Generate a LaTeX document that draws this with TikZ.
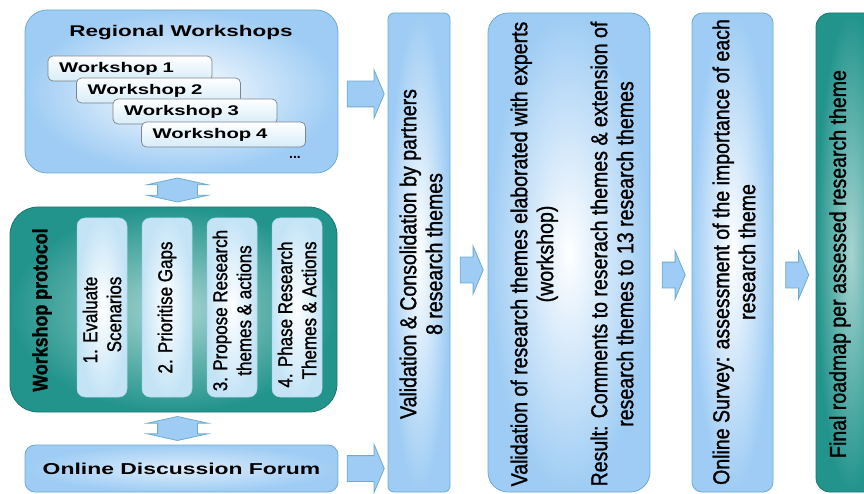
\documentclass[tikz,border=0pt]{standalone}
\usepackage{fontspec}
\usepackage{tikz}
\usetikzlibrary{shapes.arrows,calc}
\setmainfont{Liberation Sans}
\newfontfamily\widefont[FakeStretch=1.45]{Liberation Sans}
\newfontfamily\tallfont[FakeStretch=0.85,FakeBold=1.2]{Liberation Sans}

\definecolor{skyblue}{RGB}{158,204,244}
\definecolor{skyline}{RGB}{108,172,208}
\definecolor{tealfill}{RGB}{34,148,140}
\definecolor{tealline}{RGB}{25,120,114}
\definecolor{paleblue}{RGB}{196,228,246}
\definecolor{wsgray}{RGB}{125,132,140}

\tikzset{
  bluebox/.style={draw=skyline, line width=0.8pt, inner color=white, outer color=skyblue},
  tealbox/.style={draw=tealline, line width=0.8pt, inner color=tealfill!40!white, outer color=tealfill},
  wsbox/.style={draw=wsgray, line width=0.7pt, top color=white, bottom color=paleblue!70!white,
    rounded corners=5pt, minimum height=25pt, inner xsep=11pt, inner ysep=0pt, text width=142pt,
    align=left, font=\widefont\bfseries\fontsize{14}{16}\selectfont},
  stepbox/.style={draw=paleblue!70!skyline, line width=0.5pt, inner color=white, outer color=paleblue,
    rounded corners=8pt, minimum width=50pt, minimum height=179pt},
  coltext/.style={rotate=90, align=center, font=\tallfont\fontsize{23}{26}\selectfont},
  steptext/.style={rotate=90, align=center, font=\tallfont\fontsize{20}{24}\selectfont},
  blockarrow/.style={single arrow, draw=skyline, fill=skyblue, line width=0.8pt, inner xsep=0pt,
    inner ysep=12.5pt, single arrow head extend=11pt, single arrow tip angle=134},
  updown/.style={double arrow, rotate=90, draw=skyline, fill=skyblue, line width=0.8pt, inner xsep=0pt,
    inner ysep=19.5pt, double arrow head extend=10.5pt, double arrow tip angle=155, minimum height=24pt}
}

\begin{document}
\begin{tikzpicture}[x=1pt,y=-1pt]
  \useasboundingbox (0,0) rectangle (864,494);

  % left part: workshops, protocol and forum
  \node[bluebox, rounded corners=22pt, minimum width=313pt, minimum height=163pt] (regional) at (181.5,91.5) {};
  \node[font=\widefont\bfseries\fontsize{15.5}{18}\selectfont] (regtitle) at (181,33) {Regional Workshops};
  \foreach \i/\x/\y in {1/130/68.5, 2/158.5/90.5, 3/195/111.5, 4/223.5/134.5}
    \node[wsbox] (ws\i) at (\x,\y) {Workshop \i};
  \node[font=\bfseries\fontsize{14}{16}\selectfont] (wsmore) at (295,157) {...};

  \node[tealbox, rounded corners=28pt, minimum width=327pt, minimum height=205pt] (protocol) at (173.5,309.5) {};
  \node[rotate=90, font=\tallfont\bfseries\fontsize{21}{24}\selectfont] (prottitle) at (42,310) {Workshop protocol};
  \foreach \i/\x in {1/102, 2/167, 3/232, 4/297}
    \node[stepbox] (step\i) at (\x,307.5) {};
  \node[steptext, align=right] (steptxt1) at ($(step1.center)+(0,12.5)$) {1. Evaluate\\Scenarios};
  \node[steptext] (steptxt2) at (step2.center) {2. Prioritise Gaps};
  \node[steptext] (steptxt3) at ($(step3.center)+(0,3)$) {3. Propose Research\\themes \& actions};
  \node[steptext, align=right] (steptxt4) at ($(step4.center)+(0,7)$) {4. Phase Research\\Themes \& Actions};

  \node[bluebox, inner color=skyblue!35!white, rounded corners=10pt, minimum width=313pt, minimum height=47pt,
    font=\widefont\bfseries\fontsize{15.8}{18}\selectfont] (forum) at (181.5,468.5) {Online Discussion Forum};

  \node[updown] (upd1) at ($(regional.south)!0.5!(protocol.north)$) {};
  \node[updown] (upd2) at ($(protocol.south)!0.5!(forum.north)$) {};

  % columns of the process
  \node[bluebox, rounded corners=6pt, minimum width=62pt, minimum height=479pt] (valid) at (419,252.5) {};
  \node[coltext] (validtxt) at (421,254) {Validation \& Consolidation by partners\\8 research themes};

  \node[bluebox, rounded corners=20pt, minimum width=162pt, minimum height=479pt] (review) at (569,252.5) {};
  \node[coltext] (reviewtxt) at (572,254) {Validation of research themes elaborated with experts\\(workshop)\\[28pt]
    Result: Comments to reserach themes \& extension of\\research themes to 13 research themes};

  \node[bluebox, rounded corners=10pt, minimum width=81pt, minimum height=479pt] (survey) at (732.5,252.5) {};
  \node[coltext] (surveytxt) at (734,252) {Online Survey: assessment of the importance of each\\research theme};

  \node[tealbox, rounded corners=14pt, minimum width=70pt, minimum height=479pt] (roadmap) at (851,252.5) {};
  \node[coltext] (roadmaptxt) at (840,264) {Final roadmap per assessed research theme};

  % arrows between the blocks
  \node[blockarrow, minimum height=37pt] (ar1) at ($(regional.east)!0.5!(valid.west |- regional.east) + (0,2.5)$) {};
  \node[blockarrow, minimum height=37pt] (ar2) at ($(forum.east)!0.5!(valid.west |- forum.east)$) {};
  \node[blockarrow, minimum height=23pt] (ar3) at ($(valid.east)!0.5!(review.west) + (0,17.5)$) {};
  \node[blockarrow, minimum height=23pt] (ar4) at ($(review.east)!0.5!(survey.west) + (0,22.5)$) {};
  \node[blockarrow, minimum height=23pt] (ar5) at ($(survey.east)!0.5!(roadmap.west) + (0,22.5)$) {};
\end{tikzpicture}
\end{document}
